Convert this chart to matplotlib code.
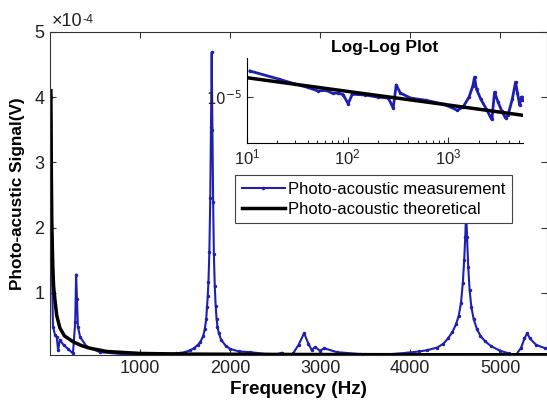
import matplotlib.pyplot as plt
from matplotlib.ticker import FixedLocator, NullLocator, LogLocator, FixedFormatter

plt.rcParams['font.family'] = ['Liberation Sans', 'DejaVu Sans']

# Main plot data, signal in units of 1e-4 V
meas_freq = [10, 20, 33, 55, 75, 90, 110, 150, 200, 255, 280, 290, 300, 310, 335,
             410, 555, 800, 1000, 1200, 1300, 1400, 1500, 1560, 1600, 1640, 1667,
             1700, 1720, 1735, 1744, 1752, 1760, 1770, 1780, 1788, 1796, 1804, 1812,
             1820, 1830, 1840, 1850, 1860, 1875, 1900, 1950, 2000, 2100, 2222, 2400,
             2500, 2578, 2630, 2700, 2760, 2822, 2870, 2907, 2944, 3000, 3044, 3185,
             3444, 3700, 3963, 4100, 4189, 4300, 4370, 4420, 4470, 4510, 4540, 4565,
             4585, 4600, 4612, 4622, 4632, 4645, 4660, 4680, 4705, 4740, 4780, 4830,
             4900, 5000, 5100, 5170, 5230, 5270, 5300, 5330, 5400, 5500]
meas_signal = [4.0, 1.5, 0.48, 0.36, 0.32, 0.12, 0.28, 0.2, 0.14, 0.07, 0.55, 1.28, 0.9,
               0.48, 0.32, 0.17, 0.09, 0.06, 0.05, 0.05, 0.06, 0.07, 0.09, 0.12, 0.15,
               0.2, 0.24, 0.33, 0.45, 0.6, 0.78, 0.95, 1.17, 1.63, 2.46, 3.54, 4.69,
               3.5, 2.4, 1.6, 1.1, 0.8, 0.6, 0.48, 0.38, 0.28, 0.19, 0.14, 0.1, 0.09,
               0.06, 0.05, 0.08, 0.02, 0.07, 0.2, 0.38, 0.22, 0.12, 0.17, 0.11, 0.15,
               0.09, 0.06, 0.05, 0.08, 0.1, 0.12, 0.16, 0.22, 0.3, 0.4, 0.52, 0.65,
               0.85, 1.15, 1.5, 1.85, 2.25, 1.85, 1.4, 1.05, 0.78, 0.6, 0.45, 0.34,
               0.26, 0.18, 0.11, 0.07, 0.04, 0.15, 0.3, 0.38, 0.3, 0.2, 0.15]

theo_freq = [10, 15, 20, 30, 40, 55, 75, 110, 160, 255, 350, 445, 630, 1000, 1500,
             2500, 4000, 5500]
theo_signal = [4.1, 2.8, 2.1, 1.45, 1.1, 0.89, 0.65, 0.46, 0.34, 0.25, 0.19, 0.15,
               0.10, 0.07, 0.06, 0.055, 0.05, 0.05]

# Inset (log-log) data, signal in units of 1e-5 V
inset_meas_freq = [10.7, 20.8, 30, 40, 50.9, 61, 71, 80, 90, 101, 111, 150, 200, 253,
                   283, 303, 333, 420, 600, 900, 1230, 1400, 1600, 1750, 1815, 1900,
                   2100, 2400, 2618, 2700, 2870, 3100, 3400, 3690, 3900, 4300, 4640,
                   4850, 5100, 5300, 5400, 5500]
inset_meas_signal = [1.82, 1.51, 1.35, 1.25, 1.15, 1.17, 1.09, 1.1, 1.06, 0.86, 1.07,
                     1.05, 1.0, 0.98, 0.78, 1.32, 1.1, 0.98, 0.93, 0.85, 0.74, 0.8, 1.0,
                     1.3, 1.58, 1.2, 0.95, 0.75, 0.63, 0.6, 1.12, 0.9, 0.72, 0.62, 0.66,
                     0.95, 1.41, 1.1, 0.83, 1.0, 1.0, 0.93]
inset_theo_freq = [10, 100, 1000, 5500]
inset_theo_signal = [1.56, 1.14, 0.835, 0.66]

x_ticks = [1000, 2000, 3000, 4000, 5000]
y_ticks = [1, 2, 3, 4, 5]

blue = '#1f1fb0'

fig = plt.figure(figsize=(5.47, 4.17), dpi=100)
ax = fig.add_axes([50 / 547, 62 / 417, 497 / 547, 323 / 417])

ax.plot(meas_freq, [v * 1e-4 for v in meas_signal], color=blue, lw=1.5,
        marker='.', ms=3, label='Photo-acoustic measurement')
ax.plot(theo_freq, [v * 1e-4 for v in theo_signal], color='black', lw=2.5,
        label='Photo-acoustic theoretical')

ax.set_xlim(0, 5520)
ax.set_ylim(4.6e-6, 5e-4)
ax.set_xticks(x_ticks)
ax.set_yticks([v * 1e-4 for v in y_ticks])
ax.ticklabel_format(axis='y', style='sci', scilimits=(0, 0), useMathText=True)
ax.yaxis.get_offset_text().set_visible(False)

# exponent label drawn by hand so it sits tight like the original
base = ax.text(0.004, 1.019, '\u00d710', transform=ax.transAxes, fontsize=13,
               va='baseline', ha='left', color='#222222')
ax.annotate('-4', xy=(1.0, 0.95), xycoords=base, fontsize=9, va='top', ha='left',
            color='#222222')

ax.tick_params(direction='in', top=True, right=True, labelsize=13, length=4,
               width=0.8, colors='#333333', labelcolor='#222222')
for s in ax.spines.values():
    s.set_color('#333333')
ax.set_xlabel('Frequency (Hz)', fontsize=13.7, fontweight='bold', labelpad=3)
ax.set_ylabel('Photo-acustic Signal(V)', fontsize=12.3, fontweight='bold', labelpad=6)

leg = ax.legend(loc='upper left', bbox_to_anchor=(235 / 547, 1 - 175 / 417),
                bbox_transform=fig.transFigure, borderaxespad=0, fancybox=False,
                edgecolor='#444444', framealpha=1, fontsize=12, numpoints=1,
                handlelength=2.6, handletextpad=0.15, labelspacing=0.3, borderpad=0.4)
leg.get_frame().set_linewidth(0.8)

# Inset log-log axes
ins = fig.add_axes([247 / 547, 1 - 143 / 417, 276 / 547, 85 / 417])
ins.plot(inset_meas_freq, [v * 1e-5 for v in inset_meas_signal], color=blue, lw=2,
         marker='.', ms=3)
ins.plot(inset_theo_freq, [v * 1e-5 for v in inset_theo_signal], color='black', lw=2.5)
ins.set_xscale('log')
ins.set_yscale('log')
ins.set_xlim(10, 5500)
ins.set_ylim(3.5e-6, 2.45e-5)
ins.yaxis.set_major_locator(FixedLocator([1e-5]))
ins.yaxis.set_major_formatter(FixedFormatter([r'$10^{-5}$']))
ins.yaxis.set_minor_locator(NullLocator())
ins.xaxis.set_minor_locator(LogLocator(base=10, subs=range(2, 10)))
ins.spines['top'].set_visible(False)
ins.spines['right'].set_visible(False)
ins.tick_params(direction='in', labelsize=12, length=4, width=0.8, colors='#333333',
                labelcolor='#222222')
ins.tick_params(axis='y', labelsize=11)
ins.tick_params(which='minor', direction='in', length=2, width=0.6)
ins.set_title('Log-Log Plot', fontsize=12.5, fontweight='bold', pad=4)

fig.savefig('out.png', dpi=100)
